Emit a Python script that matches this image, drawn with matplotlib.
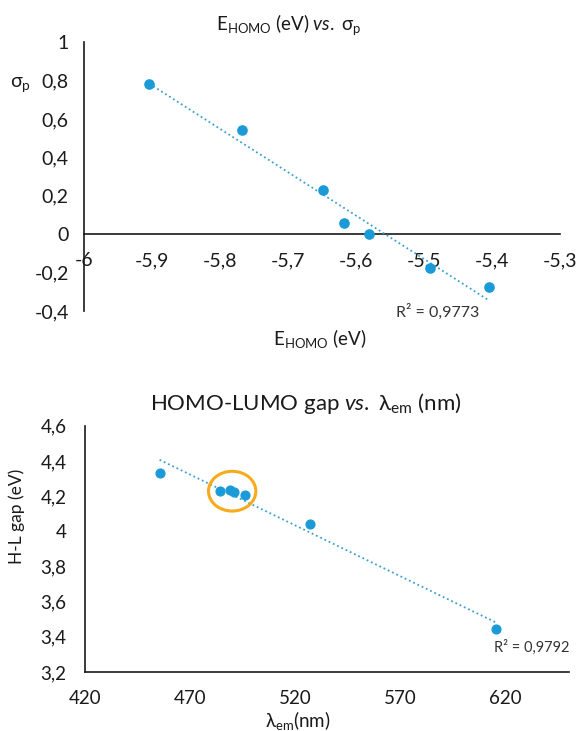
import numpy as np
import matplotlib
matplotlib.use('Agg')
import matplotlib.pyplot as plt
from matplotlib.patches import Ellipse
from matplotlib.ticker import FuncFormatter

plt.rcParams['font.family'] = ['Lato', 'DejaVu Sans']
plt.rcParams['axes.unicode_minus'] = False
plt.rcParams['mathtext.fontset'] = 'custom'
plt.rcParams['mathtext.rm'] = 'Lato'
plt.rcParams['mathtext.it'] = 'Lato:italic'
plt.rcParams['mathtext.default'] = 'regular'

# top chart: E_HOMO vs sigma_p
e_homo = [-5.904, -5.768, -5.649, -5.618, -5.581, -5.491, -5.404]
sigma_p = [0.78, 0.544, 0.231, 0.057, 0.0, -0.174, -0.275]
top_xticks = [-6, -5.9, -5.8, -5.7, -5.6, -5.5, -5.4, -5.3]
top_yticks = [-0.4, -0.2, 0, 0.2, 0.4, 0.6, 0.8, 1]

# bottom chart: emission wavelength vs H-L gap
lam_em = [455.6, 484.2, 489.3, 490.8, 496.1, 527.2, 615.5]
hl_gap = [4.331, 4.231, 4.233, 4.223, 4.205, 4.039, 3.445]
bot_xticks = [420, 470, 520, 570, 620]
bot_yticks = [3.2, 3.4, 3.6, 3.8, 4.0, 4.2, 4.4, 4.6]

blue = '#1a9bd7'
trend = '#3a9fd0'
orange = '#f6aa1c'
ink = '#1a1a1a'


def comma(v, pos=None):
    s = ('%.1f' % v).replace('.', ',')
    if s.endswith(',0'):
        s = s[:-2]
    if s == '-0':
        s = '0'
    return s


def style(ax):
    for sp in ['top', 'right']:
        ax.spines[sp].set_visible(False)
    for sp in ['left', 'bottom']:
        ax.spines[sp].set_linewidth(1.2)
        ax.spines[sp].set_color(ink)
    ax.tick_params(length=0, labelsize=14, colors=ink)
    ax.xaxis.set_major_formatter(FuncFormatter(comma))
    ax.yaxis.set_major_formatter(FuncFormatter(comma))


fig = plt.figure(figsize=(5.77, 7.31), dpi=100)

# ---- top chart ----
ax1 = fig.add_axes([0.1456, 0.5745, 0.8249, 0.368])
style(ax1)
ax1.set_xlim(-6, -5.3)
ax1.set_ylim(-0.4, 1)
ax1.spines['bottom'].set_position(('data', 0))
ax1.set_xticks(top_xticks)
ax1.set_yticks(top_yticks)
ax1.tick_params(axis='x', pad=13)
ax1.tick_params(axis='y', pad=11)
ax1.scatter(e_homo, sigma_p, s=44, color=blue, zorder=5, clip_on=False)
k, b = np.polyfit(e_homo, sigma_p, 1)
xx = np.array([min(e_homo), max(e_homo)])
ax1.plot(xx, k * xx + b, color=trend, lw=1.3, linestyle=(0, (1, 1.6)), zorder=4)
fig.text(289 / 577, 1 - 25 / 731, r'$E_{HOMO}$ (eV) $\mathit{vs.}$ $σ_p$', ha='center',
         va='center', fontsize=13.5, color=ink)
fig.text(20 / 577, 1 - 85 / 731, r'$σ_p$', ha='center', va='center', fontsize=14,
         color=ink)
fig.text(320 / 577, 1 - 338 / 731, r'$E_{HOMO}$ (eV)', ha='center', va='center',
         fontsize=13.5, color=ink)
fig.text(396 / 577, 1 - 312 / 731, 'R² = 0,9773', ha='left', va='center',
         fontsize=11.5, color='#333333')

# ---- bottom chart ----
ax2 = fig.add_axes([0.1468, 0.0807, 0.8386, 0.3369])
style(ax2)
ax2.set_xlim(420, 650)
ax2.set_ylim(3.2, 4.6)
ax2.set_xticks(bot_xticks)
ax2.set_yticks(bot_yticks)
ax2.xaxis.set_major_formatter(FuncFormatter(lambda v, p: '%d' % v))
ax2.tick_params(axis='both', labelsize=13.5)
ax2.tick_params(axis='x', pad=13)
ax2.tick_params(axis='y', pad=13)
ax2.scatter(lam_em, hl_gap, s=40, color=blue, zorder=5)
k2, b2 = np.polyfit(lam_em, hl_gap, 1)
xx2 = np.array([min(lam_em), max(lam_em)])
ax2.plot(xx2, k2 * xx2 + b2, color=trend, lw=1.3, linestyle=(0, (1, 1.6)), zorder=4)
ax2.add_patch(Ellipse((490.1, 4.228), 22.5, 0.226, fill=False, edgecolor=orange,
                      lw=2.2, zorder=6))
fig.text(306 / 577, 1 - 403 / 731, r'HOMO-LUMO gap $\mathit{vs.}$ $λ_{em}$ (nm)',
         ha='center', va='center', fontsize=16, color=ink)
fig.text(17 / 577, 1 - 516 / 731, 'H-L gap (eV)', ha='center', va='center',
         rotation=90, fontsize=12.5, color=ink)
fig.text(298 / 577, 1 - 720 / 731, r'$λ_{em}$(nm)', ha='center', va='center',
         fontsize=13.5, color=ink)
fig.text(569 / 577, 1 - 647 / 731, 'R² = 0,9792', ha='right', va='center',
         fontsize=10.5, color='#333333')

fig.savefig('out.png', dpi=100)
